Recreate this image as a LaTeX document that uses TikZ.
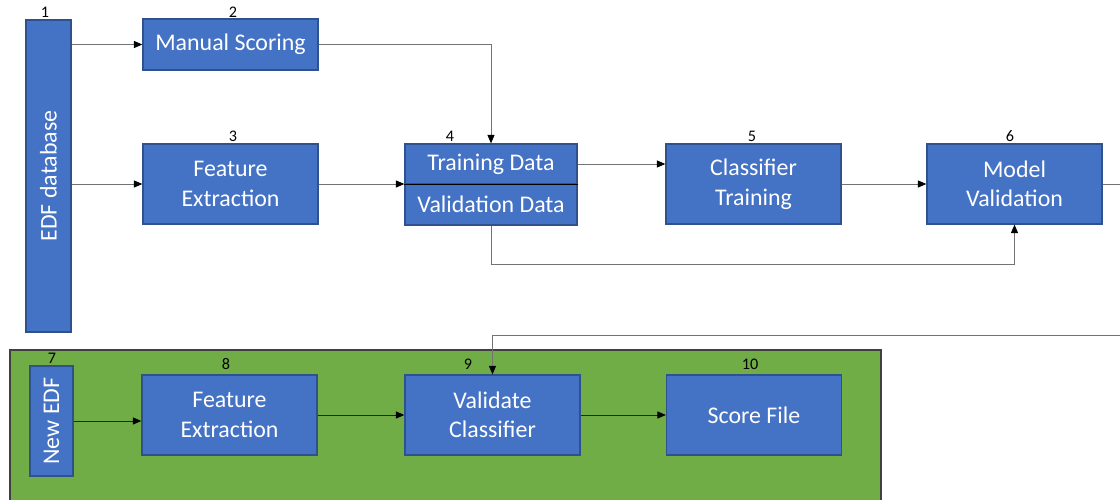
\documentclass[tikz,border=0pt]{standalone}
\usepackage{fontspec}
\setmainfont{Carlito}
\usetikzlibrary{arrows.meta,positioning,calc}
\definecolor{boxblue}{HTML}{4472C4}
\definecolor{boxedge}{HTML}{2F528F}
\definecolor{panelgreen}{HTML}{70AD47}
\begin{document}
\begin{tikzpicture}[
    x=0.025cm, y=-0.025cm,
    block/.style={draw=boxedge, line width=0.9pt, fill=boxblue, text=white, minimum width=4.375cm, minimum height=2cm, align=center, font=\fontsize{17}{21}\selectfont, inner sep=2pt},
    tall/.style={block, rotate=90},
    num/.style={font=\fontsize{11.5}{12}\selectfont, inner sep=0pt},
    arr/.style={-{Triangle[length=6pt,width=5pt,black]}, draw=black!55, line width=0.6pt},
    arrin/.style={arr, draw=black!85}
]
\useasboundingbox (0,0) rectangle (1120,500);

% training pipeline
\node[tall, minimum width=7.8cm, minimum height=1.125cm] (db) at (48.5,176) {EDF database};
\node[block, minimum height=1.275cm] (ms) at (230.5,44.5) {Manual Scoring};
\node[block] (fe) at (230.5,184) {Feature\\Extraction};
\node[block, minimum width=4.3cm, minimum height=1cm] (td) at (491,164) {Training Data};
\node[block, minimum width=4.3cm, minimum height=1.025cm] (vd) at (491,204.5) {Validation Data};
\draw[black, line width=1.2pt] (td.south west) -- (td.south east);
\node[block] (ct) at (753.5,184) {Classifier\\Training};
\node[block] (mv) at (1014.5,184) {Model\\Validation};

% scoring of a new recording
\draw[draw=black!75, fill=panelgreen, line width=0.8pt] (10,350) rectangle (881,510);
\node[tall, minimum width=2.75cm, minimum height=1.075cm] (ne) at (51.5,421) {New EDF};
\node[block] (fe2) at (229.5,415) {Feature\\Extraction};
\node[block] (vc) at (492.5,415) {Validate\\Classifier};
\node[block] (sf) at (754,415) {Score File};

% step numbers
\node[num] (n1) at (45,12) {1};
\node[num] (n2) at (233,12) {2};
\node[num] (n3) at (233,136) {3};
\node[num] (n4) at (450,136) {4};
\node[num] (n5) at (752,136) {5};
\node[num] (n6) at (1010,136) {6};
\node[num] (n7) at (52,358) {7};
\node[num] (n8) at (226,364) {8};
\node[num] (n9) at (468,364) {9};
\node[num] (n10) at (750,364) {10};

\coordinate (back) at (1140,335);

\draw[arr] (ms.west -| db.south) -- (ms.west);
\draw[arr] (fe.west -| db.south) -- (fe.west);
\draw[arr] (ms.east) -| (td.north);
\draw[arr] (fe.east) -- (fe.east -| td.west);
\draw[arr] (td.east) -- (td.east -| ct.west);
\draw[arr] (ct) -- (mv);
\draw[arr] (vd.south) -- ++(0,39) -| (mv.south);
\draw[arr] (mv.east) -| (back) -| (vc.north);

\draw[arrin] (ne.south) -- (ne.south -| fe2.west);
\draw[arrin] (fe2) -- (vc);
\draw[arrin] (vc) -- (sf);
\end{tikzpicture}
\end{document}
